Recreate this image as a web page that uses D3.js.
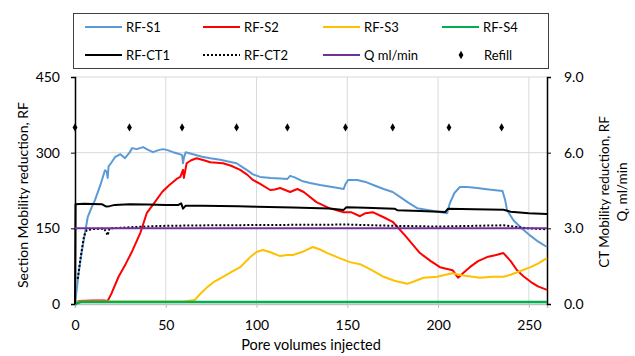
<!DOCTYPE html>
<html>
<head>
<meta charset="utf-8">
<script src="https://cdn.jsdelivr.net/npm/d3@7"></script>
<style>
  body { margin: 0; background: #fff; }
  svg { font-family: Lato, "Open Sans", sans-serif; }
</style>
</head>
<body>
<svg width="635" height="356"></svg>
<script>
// values, [pore volumes, value]
var rfS1 = [[0,0],[1,30],[2,61],[4,110],[7,172],[9,190],[11,206],[14,236],[16.5,265],[17.5,262],[18,250],[18.5,273],[20,280],[22,291],[25,297],[27.5,289],[30,300],[31.5,309],[34,307],[37.5,311],[40,306],[43,301],[46,305],[48.5,307],[51,305],[54,301],[57,298],[59,295],[59.5,279],[60,290],[61,301],[65,297],[70,292],[74.5,289],[80,286],[85,282],[89,279],[92,272],[95,265],[98,257],[102,252],[108,250],[113,249],[117,248],[118.5,254],[121,251],[125,244],[129.5,240],[135,236],[140,233],[145,230],[148,228],[149,238],[150.5,246],[155.5,246],[160,242],[165,235],[170,228],[175,222],[180,210],[184,200],[188.5,190],[195,186],[200,183],[205,180],[206.5,200],[209,220],[212,232],[216,232],[221.5,230],[228,227],[235.5,224],[237,205],[238,186],[241.5,166],[246,150],[251,135],[255,124],[260,113]];
var rfS2 = [[0,0],[2,6],[10,7],[16,7],[18,6],[20,20],[24,54],[28,80],[31,101],[36,141],[39.5,180],[44,202],[48,222],[52,236],[56,248],[58,252],[59.5,266],[60,250],[61.5,279],[64,285],[67,289],[71,285],[74.5,281],[78,280],[81.5,279],[86,274],[91,266],[95,256],[98,246],[102,238],[107.5,226],[110,227],[113,230],[118.5,222],[122.5,228],[126,222],[133,202],[140,190],[148,182],[152,182],[157,174],[160,180],[164,182],[170,172],[175,163],[182,135],[190,101],[196,85],[201,73],[208,67],[211,52],[214,62],[217.5,73],[222,85],[227,93],[232,97],[236,101],[240,85],[243.5,67],[247,55],[251,44],[255,35],[260,28]];
var rfS3 = [[0,0],[2,5],[30,5],[60,5],[66,8],[69,20],[73,34],[77,45],[81.5,54],[86,63],[91,73],[96.5,93],[100,103],[103.5,107],[108,102],[113,95],[117,97],[120,97],[125,103],[131,113],[135,108],[139,101],[145,92],[151.5,83],[157,79],[163,68],[170,54],[176,46],[183,40],[187,45],[192,52],[199.5,54],[204,58],[208,61],[213,57],[223,52],[230,54],[236,54],[240,58],[243.5,63],[251,73],[255,80],[260,91]];
var rfS4 = [[0,0],[3,4],[50,4],[100,4],[150,4],[200,4],[260,4]];
// secondary axis
var rfCT1 = [[0,0],[0.3,3.95],[5,3.97],[10,3.96],[15,3.95],[17,3.87],[19,3.88],[22,3.93],[30,3.95],[40,3.94],[50,3.93],[57,3.93],[58.5,3.99],[59.5,3.78],[61,3.9],[70,3.9],[80,3.89],[90,3.88],[100,3.86],[120,3.83],[140,3.79],[148,3.73],[149.5,3.84],[160,3.82],[176,3.78],[177.5,3.72],[190,3.69],[204,3.65],[205.5,3.78],[220,3.76],[236,3.74],[240,3.66],[250,3.6],[260,3.57]];
var rfCT2 = [[1.5,1.0],[3,1.8],[5,2.7],[6.5,2.93],[10,2.97],[16,2.99],[17.5,2.8],[18,2.72],[19,3.0],[25,3.02],[35,3.06],[50,3.1],[75,3.12],[100,3.13],[125,3.14],[150,3.15],[175,3.1],[200,3.07],[220,3.1],[236,3.12],[245,3.04],[250,3.0],[260,2.96]];
var flowQ = [[0,3],[260,3]];
var refillX = [0,30,59,89,117,149,175,206,235];
var refillY = 7.0;

var xTicks = [0,50,100,150,200,250];
var yTicks = [0,150,300,450];
var y2Ticks = [0,3,6,9];

var svg = d3.select("svg");
var padL = 75, padR = 547, padT = 77, padB = 304;

var x = d3.scaleLinear().domain([0,260]).range([padL,padR]);
var y = d3.scaleLinear().domain([0,450]).range([padB,padT]);
var y2 = d3.scaleLinear().domain([0,9]).range([padB,padT]);

// grid
svg.append("g").selectAll("line").data(xTicks.filter(function(d){return d>0;}))
  .enter().append("line")
  .attr("x1", function(d){return x(d);}).attr("x2", function(d){return x(d);})
  .attr("y1", padT).attr("y2", padB)
  .attr("stroke", "#d9d9d9").attr("stroke-width", 1);
svg.append("g").selectAll("line").data(yTicks.filter(function(d){return d>0;}))
  .enter().append("line")
  .attr("x1", padL).attr("x2", padR)
  .attr("y1", function(d){return y(d);}).attr("y2", function(d){return y(d);})
  .attr("stroke", "#d9d9d9").attr("stroke-width", 1);

// axes
var xAxis = svg.append("g").attr("transform", "translate(0," + padB + ")")
  .call(d3.axisBottom(x).tickValues(xTicks).tickSize(4).tickPadding(12));
var yAxis = svg.append("g").attr("transform", "translate(" + padL + ",0)")
  .call(d3.axisLeft(y).tickValues(yTicks).tickSize(4).tickPadding(11));
var y2Axis = svg.append("g").attr("transform", "translate(" + padR + ",0)")
  .call(d3.axisRight(y2).tickValues(y2Ticks).tickFormat(d3.format(".1f")).tickSize(4).tickPadding(13));
[xAxis, yAxis, y2Axis].forEach(function(a) {
  a.selectAll("text").attr("font-size", 14).attr("fill", "#000").attr("font-family", "Lato, sans-serif");
  a.selectAll("line").attr("stroke", "#000");
  a.select(".domain").attr("stroke", "#000").attr("stroke-width", 1.5);
});
xAxis.select(".domain").attr("stroke", "#bfbfbf");
xAxis.selectAll(".tick line").attr("stroke", "#bfbfbf");

// series
var line1 = d3.line().x(function(d){return x(d[0]);}).y(function(d){return y(d[1]);});
var line2 = d3.line().x(function(d){return x(d[0]);}).y(function(d){return y2(d[1]);});

var series = [
  {name: "RF-S1", data: rfS1, color: "#5b9bd5", line: line1},
  {name: "RF-S2", data: rfS2, color: "#ff0000", line: line1},
  {name: "RF-S3", data: rfS3, color: "#ffc000", line: line1},
  {name: "RF-S4", data: rfS4, color: "#00b050", line: line1, width: 2.5},
  {name: "RF-CT1", data: rfCT1, color: "#000000", line: line2},
  {name: "RF-CT2", data: rfCT2, color: "#000000", line: line2, dash: "2,2"},
  {name: "Q ml/min", data: flowQ, color: "#7030a0", line: line2}
];

series.forEach(function(s) {
  svg.append("path").datum(s.data)
    .attr("d", s.line)
    .attr("fill", "none")
    .attr("stroke", s.color)
    .attr("stroke-width", s.width || 2)
    .attr("stroke-dasharray", s.dash || null)
    .attr("stroke-linejoin", "round");
});

svg.append("g").selectAll("path").data(refillX).enter().append("path")
  .attr("d", d3.symbol().type(d3.symbolDiamond).size(20))
  .attr("transform", function(d){return "translate(" + x(d) + "," + y2(refillY) + ")";})
  .attr("fill", "#000");

// legend
svg.append("rect").attr("x", 73.5).attr("y", 13.5).attr("width", 475).attr("height", 55)
  .attr("fill", "#fff").attr("stroke", "#404040").attr("stroke-width", 1);
var legendPos = [[85,27],[203,27],[323,27],[442,27],[85,55],[203,55],[323,55],[442,55]];
series.forEach(function(s, i) {
  var p = legendPos[i];
  svg.append("line").attr("x1", p[0]).attr("x2", p[0] + 37).attr("y1", p[1]).attr("y2", p[1])
    .attr("stroke", s.color).attr("stroke-width", 2).attr("stroke-dasharray", s.dash || null);
  svg.append("text").attr("x", p[0] + 41).attr("y", p[1] + 4.5).attr("font-size", 13).text(s.name);
});
svg.append("path").attr("d", d3.symbol().type(d3.symbolDiamond).size(20))
  .attr("transform", "translate(461,55)").attr("fill", "#000");
svg.append("text").attr("x", 484).attr("y", 59.5).attr("font-size", 13).text("Refill");

// axis titles
svg.append("text").attr("transform", "translate(28,195) rotate(-90)")
  .attr("text-anchor", "middle").attr("font-size", 14).text("Section Mobility reduction, RF");
svg.append("text").attr("transform", "translate(609,192) rotate(-90)")
  .attr("text-anchor", "middle").attr("font-size", 13.5).text("CT Mobility reduction, RF");
svg.append("text").attr("transform", "translate(627,192) rotate(-90)")
  .attr("text-anchor", "middle").attr("font-size", 13.5).text("Q, ml/min");
svg.append("text").attr("x", 311).attr("y", 350)
  .attr("text-anchor", "middle").attr("font-size", 14.5).text("Pore volumes injected");
</script>
</body>
</html>
